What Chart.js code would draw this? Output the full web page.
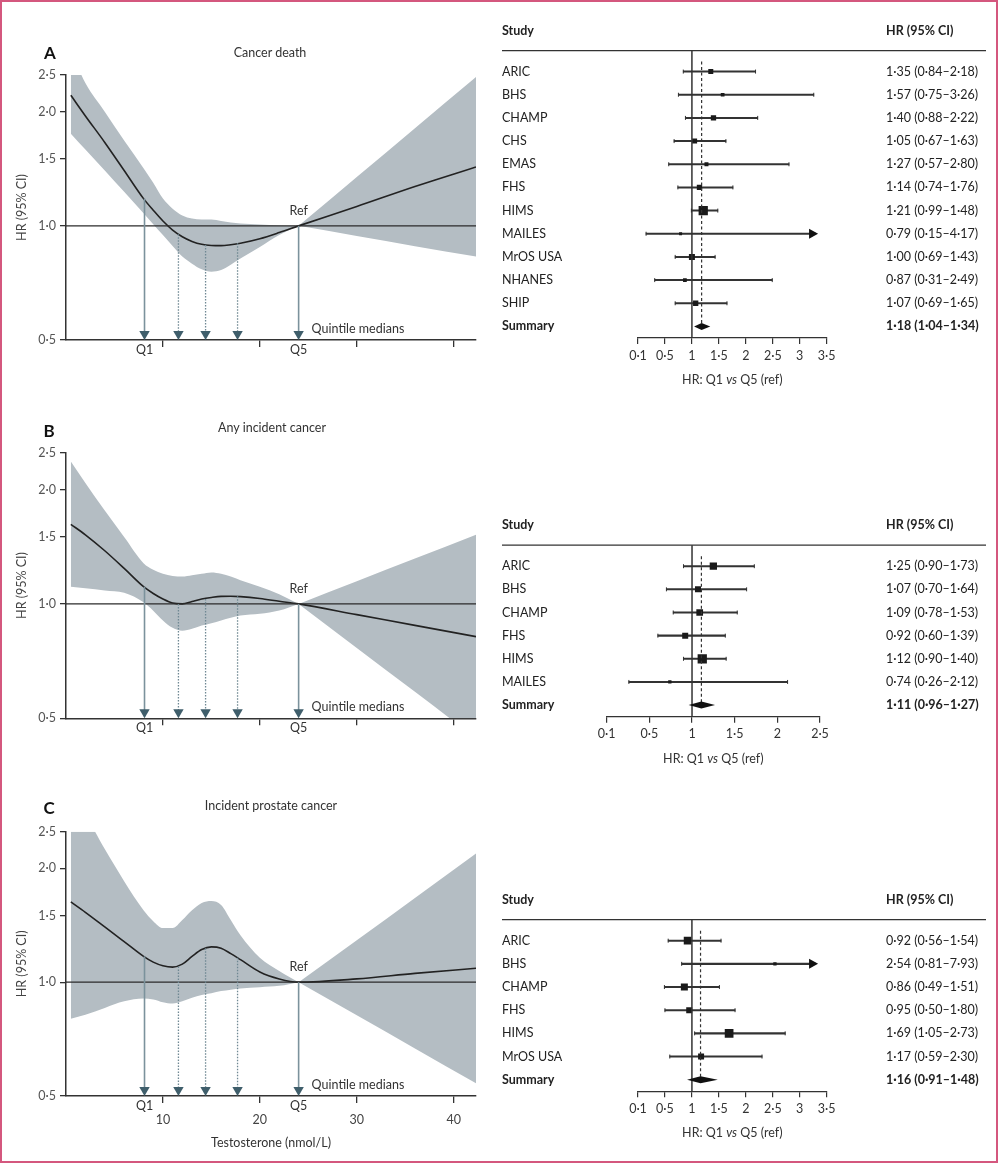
<!DOCTYPE html>
<html>
<head>
<meta charset="utf-8">
<script src="https://cdn.jsdelivr.net/npm/chart.js@4.4.0/dist/chart.umd.min.js"></script>
<style>
html, body { margin: 0; padding: 0; background: #fff; }
#page { position: relative; width: 999px; height: 1163px; overflow: hidden; font-family: Lato, "Open Sans", sans-serif; color: #222; }
#frame { position: absolute; left: 0; top: 0; width: 998px; height: 1163px; box-sizing: border-box; border: 2px solid #d4577e; pointer-events: none; }
canvas { position: absolute; }
.lbl { position: absolute; transform: translate(-50%, -50%); white-space: nowrap; }
.letter { font-weight: bold; font-size: 17px; color: #111; }
.ttl { font-size: 12.5px; color: #333; }
</style>
</head>
<body>
<div id="page">
  <canvas id="splA" width="490" height="380" style="left:0;top:0;width:490px;height:380px"></canvas>
  <canvas id="splB" width="490" height="380" style="left:0;top:380px;width:490px;height:380px"></canvas>
  <canvas id="splC" width="490" height="403" style="left:0;top:760px;width:490px;height:403px"></canvas>
  <canvas id="forA" width="505" height="395" style="left:490px;top:0;width:505px;height:395px"></canvas>
  <canvas id="forB" width="505" height="270" style="left:490px;top:500px;width:505px;height:270px"></canvas>
  <canvas id="forC" width="505" height="283" style="left:490px;top:880px;width:505px;height:283px"></canvas>

  <div class="lbl letter" style="left:50px;top:52px">A</div>
  <div class="lbl ttl" style="left:270px;top:52px">Cancer death</div>
  <div class="lbl letter" style="left:49px;top:430px">B</div>
  <div class="lbl ttl" style="left:272px;top:427px">Any incident cancer</div>
  <div class="lbl letter" style="left:49px;top:807px">C</div>
  <div class="lbl ttl" style="left:271px;top:805px">Incident prostate cancer</div>
  <div id="frame"></div>
</div>
<script>
// ---- spline data (testosterone, nmol/L) ----
var testosterone = [0.5, 2, 4, 6, 8, 9, 10, 11, 12, 13, 14, 15, 16, 17, 18, 20, 22, 24, 30, 36, 42.3];

var hrA    = [2.21, 1.95, 1.66, 1.40, 1.18, 1.10, 1.03, 0.975, 0.936, 0.91, 0.894, 0.888, 0.887, 0.892, 0.90, 0.925, 0.96, 1.0, 1.125, 1.27, 1.43];
var upperA = [2.9, 2.38, 2.0, 1.68, 1.42, 1.30, 1.18, 1.11, 1.065, 1.045, 1.04, 1.04, 1.03, 1.02, 1.015, 1.008, 1.003, 1.0, 1.345, 1.81, 2.47];
var lowerA = [1.75, 1.59, 1.40, 1.23, 1.08, 1.01, 0.946, 0.885, 0.83, 0.795, 0.768, 0.757, 0.765, 0.79, 0.82, 0.88, 0.946, 1.0, 0.94, 0.884, 0.83];

var hrB    = [1.62, 1.52, 1.38, 1.24, 1.11, 1.065, 1.03, 1.005, 1.0, 1.015, 1.03, 1.04, 1.047, 1.048, 1.045, 1.033, 1.016, 1.0, 0.937, 0.878, 0.82];
var upperB = [2.37, 2.08, 1.76, 1.50, 1.28, 1.23, 1.20, 1.185, 1.18, 1.19, 1.20, 1.21, 1.20, 1.18, 1.155, 1.11, 1.06, 1.0, 1.147, 1.316, 1.52];
var lowerB = [1.11, 1.10, 1.085, 1.07, 1.01, 0.96, 0.905, 0.865, 0.85, 0.86, 0.877, 0.89, 0.905, 0.92, 0.932, 0.942, 0.961, 1.0, 0.766, 0.587, 0.443];

var hrC    = [1.63, 1.53, 1.40, 1.28, 1.17, 1.13, 1.105, 1.096, 1.116, 1.17, 1.22, 1.24, 1.23, 1.19, 1.147, 1.064, 1.02, 1.0, 1.02, 1.055, 1.088];
var upperC = [3.0, 2.75, 2.25, 1.85, 1.55, 1.45, 1.39, 1.39, 1.46, 1.55, 1.62, 1.64, 1.60, 1.46, 1.33, 1.16, 1.07, 1.0, 1.29, 1.67, 2.19];
var lowerC = [0.80, 0.82, 0.855, 0.89, 0.905, 0.90, 0.885, 0.878, 0.89, 0.91, 0.925, 0.935, 0.947, 0.955, 0.962, 0.97, 0.978, 1.0, 0.817, 0.668, 0.54];

var quintileMedians = [8.1, 11.6, 14.4, 17.7, 24.0];
var quintileHRA = [1.18, 0.95, 0.89, 0.90, 1.0];
var quintileHRB = [1.11, 1.0, 1.03, 1.047, 1.0];
var quintileHRC = [1.17, 1.10, 1.23, 1.16, 1.0];

var yTicks = [0.5, 1.0, 1.5, 2.0, 2.5];
var xTicks = [10, 20, 30, 40];

// ---- forest data ----
var studiesA = ['ARIC', 'BHS', 'CHAMP', 'CHS', 'EMAS', 'FHS', 'HIMS', 'MAILES', 'MrOS USA', 'NHANES', 'SHIP'];
var hrForA = [1.35, 1.57, 1.40, 1.05, 1.27, 1.14, 1.21, 0.79, 1.00, 0.87, 1.07];
var loForA = [0.84, 0.75, 0.88, 0.67, 0.57, 0.74, 0.99, 0.15, 0.69, 0.31, 0.69];
var hiForA = [2.18, 3.26, 2.22, 1.63, 2.80, 1.76, 1.48, 4.17, 1.43, 2.49, 1.65];
var weightsA = [25, 14, 28, 25, 16, 28, 86, 9, 36, 14, 28];
var summaryA = [1.18, 1.04, 1.34];

var studiesB = ['ARIC', 'BHS', 'CHAMP', 'FHS', 'HIMS', 'MAILES'];
var hrForB = [1.25, 1.07, 1.09, 0.92, 1.12, 0.74];
var loForB = [0.90, 0.70, 0.78, 0.60, 0.90, 0.26];
var hiForB = [1.73, 1.64, 1.53, 1.39, 1.40, 2.12];
var weightsB = [53, 36, 45, 36, 86, 11];
var summaryB = [1.11, 0.96, 1.27];

var studiesC = ['ARIC', 'BHS', 'CHAMP', 'FHS', 'HIMS', 'MrOS USA'];
var hrForC = [0.92, 2.54, 0.86, 0.95, 1.69, 1.17];
var loForC = [0.56, 0.81, 0.49, 0.50, 1.05, 0.59];
var hiForC = [1.54, 7.93, 1.51, 1.80, 2.73, 2.30];
var weightsC = [59, 11, 49, 36, 76, 36];
var summaryC = [1.16, 0.91, 1.48];

var FONT = 'Lato, "Open Sans", sans-serif';
var bandColor = '#b4bdc3';

function dot(v, d) {
    return v.toFixed(d).replace('.', '\u00b7');
}

// points of one series, optionally only those inside [from, to]
function pts(ys, from, to) {
    var out = [];
    testosterone.forEach(function(x, i) {
        if ((from === undefined || x >= from) && (to === undefined || x <= to)) {
            out.push({ x: x, y: ys[i] });
        }
    });
    return out;
}

var quintilePlugin = {
    id: 'quintiles',
    afterDatasetsDraw: function(chart, args, opts) {
        var ctx = chart.ctx;
        var xs = chart.scales.x;
        var ys = chart.scales.y;
        var area = chart.chartArea;
        var y1 = ys.getPixelForValue(1);
        ctx.save();
        // reference line at HR 1
        ctx.strokeStyle = '#2b2b2b';
        ctx.lineWidth = 1.3;
        ctx.beginPath();
        ctx.moveTo(area.left, y1);
        ctx.lineTo(area.right, y1);
        ctx.stroke();

        var last = quintileMedians.length - 1;
        quintileMedians.forEach(function(q, i) {
            var px = xs.getPixelForValue(q);
            var top = ys.getPixelForValue(opts.hr[i]);
            var solid = (i === 0 || i === last);
            ctx.strokeStyle = solid ? '#7b929c' : '#6f8893';
            ctx.lineWidth = solid ? 1.6 : 1.3;
            ctx.setLineDash(solid ? [] : [1.5, 1.5]);
            ctx.beginPath();
            ctx.moveTo(px, top);
            ctx.lineTo(px, area.bottom - 8);
            ctx.stroke();
            ctx.setLineDash([]);
            ctx.fillStyle = '#3f5e6b';
            ctx.beginPath();
            ctx.moveTo(px - 5.2, area.bottom - 9);
            ctx.lineTo(px + 5.2, area.bottom - 9);
            ctx.lineTo(px, area.bottom);
            ctx.closePath();
            ctx.fill();
        });

        ctx.fillStyle = '#333';
        ctx.font = '12.5px ' + FONT;
        ctx.textBaseline = 'middle';
        ctx.textAlign = 'center';
        var q1 = xs.getPixelForValue(quintileMedians[0]);
        var q5 = xs.getPixelForValue(quintileMedians[last]);
        ctx.fillText('Q1', q1, area.bottom + 10);
        ctx.fillText('Q5', q5, area.bottom + 10);
        ctx.fillText('Ref', q5, y1 - 15);
        ctx.textAlign = 'left';
        ctx.fillText('Quintile medians', q5 + 13, area.bottom - 11);
        ctx.restore();
    }
};

function makeSpline(id, upper, lower, hr, qHR, areaTop, areaBottom, showX) {
    var canvas = document.getElementById(id);
    var H = canvas.height;
    var ref = quintileMedians[quintileMedians.length - 1];
    var band = { backgroundColor: bandColor, borderColor: 'rgba(0,0,0,0)', borderWidth: 0, pointRadius: 0, cubicInterpolationMode: 'monotone', order: 2 };
    var chart = new Chart(canvas, {
        type: 'line',
        data: {
            datasets: [
                Object.assign({ data: pts(upper, undefined, ref), fill: '+1' }, band),
                Object.assign({ data: pts(lower, undefined, ref), fill: false }, band),
                Object.assign({ data: pts(upper, ref), fill: '+1', tension: 0 }, band),
                Object.assign({ data: pts(lower, ref), fill: false, tension: 0 }, band),
                { data: pts(hr), fill: false, borderColor: '#222', borderWidth: 1.6, pointRadius: 0, cubicInterpolationMode: 'monotone', order: 0 }
            ]
        },
        options: {
            responsive: false,
            animation: false,
            layout: { padding: { left: 0, right: 14, top: areaTop, bottom: 0 } },
            plugins: {
                legend: { display: false },
                tooltip: { enabled: false },
                quintiles: { hr: qHR }
            },
            scales: {
                x: {
                    type: 'linear',
                    min: 0,
                    max: 42.3,
                    afterBuildTicks: function(s) { s.ticks = xTicks.map(function(v) { return { value: v }; }); },
                    afterFit: function(s) { s.height = H - areaBottom; },
                    grid: { display: true, drawOnChartArea: false, drawTicks: true, tickLength: 7, color: '#333', lineWidth: 1.3 },
                    border: { display: true, color: '#333', width: 1.5 },
                    ticks: { display: showX, color: '#444', padding: 9, font: { family: FONT, size: 12.5 }, maxRotation: 0 },
                    title: { display: showX, text: 'Testosterone (nmol/L)', color: '#333', font: { family: FONT, size: 12.5 }, padding: { top: 0, bottom: 13 } }
                },
                y: {
                    type: 'logarithmic',
                    min: 0.5,
                    max: 2.5,
                    afterBuildTicks: function(s) { s.ticks = yTicks.map(function(v) { return { value: v }; }); },
                    afterFit: function(s) { s.width = 66; },
                    grid: { display: true, drawOnChartArea: false, drawTicks: true, tickLength: 6, color: '#333', lineWidth: 1.3 },
                    border: { display: true, color: '#333', width: 1.5 },
                    ticks: { color: '#555', padding: 4, font: { family: FONT, size: 12.5 }, callback: function(v) { return dot(v, 1); } },
                    title: { display: true, text: 'HR (95% CI)', color: '#444', font: { family: FONT, size: 12.5 }, padding: { top: 14 } }
                }
            }
        },
        plugins: [quintilePlugin]
    });
    return chart;
}

var forestPlugin = {
    id: 'forest',
    afterDatasetsDraw: function(chart, args, opts) {
        var ctx = chart.ctx;
        var xs = chart.scales.x;
        var ys = chart.scales.y;
        var area = chart.chartArea;
        var n = opts.studies.length;
        var ruleY = ys.getPixelForValue(0) - 21;
        var colX = 396;
        ctx.save();
        ctx.fillStyle = '#222';
        ctx.textBaseline = 'middle';
        ctx.textAlign = 'left';
        ctx.font = 'bold 12.5px ' + FONT;
        ctx.fillText('Study', 12, ruleY - 20);
        ctx.fillText('HR (95% CI)', colX, ruleY - 20);

        ctx.strokeStyle = '#333';
        ctx.lineWidth = 1.3;
        ctx.beginPath();
        ctx.moveTo(12, ruleY);
        ctx.lineTo(496, ruleY);
        ctx.stroke();

        var x1 = xs.getPixelForValue(1);
        ctx.lineWidth = 1.5;
        ctx.beginPath();
        ctx.moveTo(x1, ruleY);
        ctx.lineTo(x1, area.bottom);
        ctx.stroke();

        // dashed line at summary estimate
        var sx = xs.getPixelForValue(opts.summary[0]);
        var sy = ys.getPixelForValue(n);
        ctx.lineWidth = 1.2;
        ctx.setLineDash([3, 2.5]);
        ctx.beginPath();
        ctx.moveTo(sx, ys.getPixelForValue(0) - 10);
        ctx.lineTo(sx, sy);
        ctx.stroke();
        ctx.setLineDash([]);

        // arrows for intervals running off the axis
        var tip = opts.arrowTip;
        opts.hi.forEach(function(h, i) {
            if (h > tip) {
                var tx = xs.getPixelForValue(tip);
                var ty = ys.getPixelForValue(i);
                ctx.fillStyle = '#111';
                ctx.beginPath();
                ctx.moveTo(tx, ty);
                ctx.lineTo(tx - 9, ty - 5);
                ctx.lineTo(tx - 9, ty + 5);
                ctx.closePath();
                ctx.fill();
            }
        });

        // summary diamond
        ctx.fillStyle = '#111';
        ctx.beginPath();
        ctx.moveTo(xs.getPixelForValue(opts.summary[1]), sy);
        ctx.lineTo(sx, sy - 3.5);
        ctx.lineTo(xs.getPixelForValue(opts.summary[2]), sy);
        ctx.lineTo(sx, sy + 3.5);
        ctx.closePath();
        ctx.fill();

        // row texts
        ctx.fillStyle = '#222';
        ctx.font = '12.5px ' + FONT;
        opts.studies.forEach(function(s, i) {
            var y = ys.getPixelForValue(i);
            ctx.fillText(s, 12, y);
            ctx.fillText(dot(opts.hr[i], 2) + ' (' + dot(opts.lo[i], 2) + '\u2013' + dot(opts.hi[i], 2) + ')', colX, y);
        });
        ctx.font = 'bold 12.5px ' + FONT;
        ctx.fillText('Summary', 12, sy);
        ctx.fillText(dot(opts.summary[0], 2) + ' (' + dot(opts.summary[1], 2) + '\u2013' + dot(opts.summary[2], 2) + ')', colX, sy);

        // axis title with italic "vs"
        var cx = (area.left + area.right) / 2;
        var ty2 = area.bottom + 42;
        var a = 'HR: Q1 ';
        var b = 'vs';
        var c = ' Q5 (ref)';
        ctx.font = '12.5px ' + FONT;
        var wa = ctx.measureText(a).width;
        var wc = ctx.measureText(c).width;
        ctx.font = 'italic 12.5px ' + FONT;
        var wb = ctx.measureText(b).width;
        var x0 = cx - (wa + wb + wc) / 2;
        ctx.fillStyle = '#333';
        ctx.font = '12.5px ' + FONT;
        ctx.fillText(a, x0, ty2);
        ctx.font = 'italic 12.5px ' + FONT;
        ctx.fillText(b, x0 + wa, ty2);
        ctx.font = '12.5px ' + FONT;
        ctx.fillText(c, x0 + wa + wb, ty2);
        ctx.restore();
    }
};

function makeForest(id, studies, hr, lo, hi, weights, summary, xMax, areaTop, areaBottom, areaLeft, areaRight) {
    var canvas = document.getElementById(id);
    var W = canvas.width;
    var H = canvas.height;
    var arrowTip = xMax - 0.16;
    var labels = studies.concat(['Summary']);
    var capPoints = [];
    lo.forEach(function(v, i) { capPoints.push({ x: v, y: studies[i] }); });
    hi.forEach(function(v, i) { if (v <= arrowTip) capPoints.push({ x: v, y: studies[i] }); });

    var chart = new Chart(canvas, {
        type: 'bar',
        data: {
            labels: labels,
            datasets: [
                {
                    type: 'bar',
                    data: lo.map(function(v, i) { return [v, Math.min(hi[i], arrowTip - 0.05)]; }),
                    backgroundColor: '#333',
                    borderWidth: 0,
                    barThickness: 1.4,
                    order: 3
                },
                {
                    type: 'scatter',
                    data: capPoints,
                    pointStyle: 'line',
                    rotation: 90,
                    pointRadius: 2,
                    borderColor: '#333',
                    borderWidth: 1,
                    order: 2
                },
                {
                    type: 'scatter',
                    data: hr.map(function(v, i) { return { x: v, y: studies[i] }; }),
                    pointStyle: 'rect',
                    pointRadius: weights.map(function(w) { return Math.sqrt(w) / 1.414; }),
                    backgroundColor: '#1a1a1a',
                    borderWidth: 0,
                    pointBorderWidth: 0,
                    order: 1
                }
            ]
        },
        options: {
            indexAxis: 'y',
            responsive: false,
            animation: false,
            layout: { padding: { left: areaLeft, right: W - areaRight, top: areaTop, bottom: 0 } },
            plugins: {
                legend: { display: false },
                tooltip: { enabled: false },
                forest: { studies: studies, hr: hr, lo: lo, hi: hi, summary: summary, arrowTip: arrowTip }
            },
            scales: {
                x: {
                    type: 'linear',
                    min: 0,
                    max: xMax,
                    afterFit: function(s) { s.height = H - areaBottom; },
                    grid: { display: true, drawOnChartArea: false, drawTicks: true, tickLength: 6, color: '#333', lineWidth: 1.2 },
                    border: { display: true, color: '#333', width: 1.3 },
                    ticks: {
                        stepSize: 0.5,
                        padding: 4,
                        color: '#333',
                        maxRotation: 0,
                        font: { family: FONT, size: 12.5 },
                        callback: function(v) { return v === 0 ? '0\u00b71' : String(v).replace('.', '\u00b7'); }
                    }
                },
                y: {
                    type: 'category',
                    display: false,
                    offset: true
                }
            }
        },
        plugins: [forestPlugin]
    });
    return chart;
}

makeSpline('splA', upperA, lowerA, hrA, quintileHRA, 75, 340, false);
makeSpline('splB', upperB, lowerB, hrB, quintileHRB, 72.7, 338.3, false);
makeSpline('splC', upperC, lowerC, hrC, quintileHRC, 71.7, 336, true);

makeForest('forA', studiesA, hrForA, loForA, hiForA, weightsA, summaryA, 3.5, 60, 338, 148, 336.7);
makeForest('forB', studiesB, hrForB, loForB, hiForB, weightsB, summaryB, 2.5, 54.6, 216.7, 116.7, 330);
makeForest('forC', studiesC, hrForC, loForC, hiForC, weightsC, summaryC, 3.5, 49.1, 211.3, 148, 336.7);
</script>
</body>
</html>
